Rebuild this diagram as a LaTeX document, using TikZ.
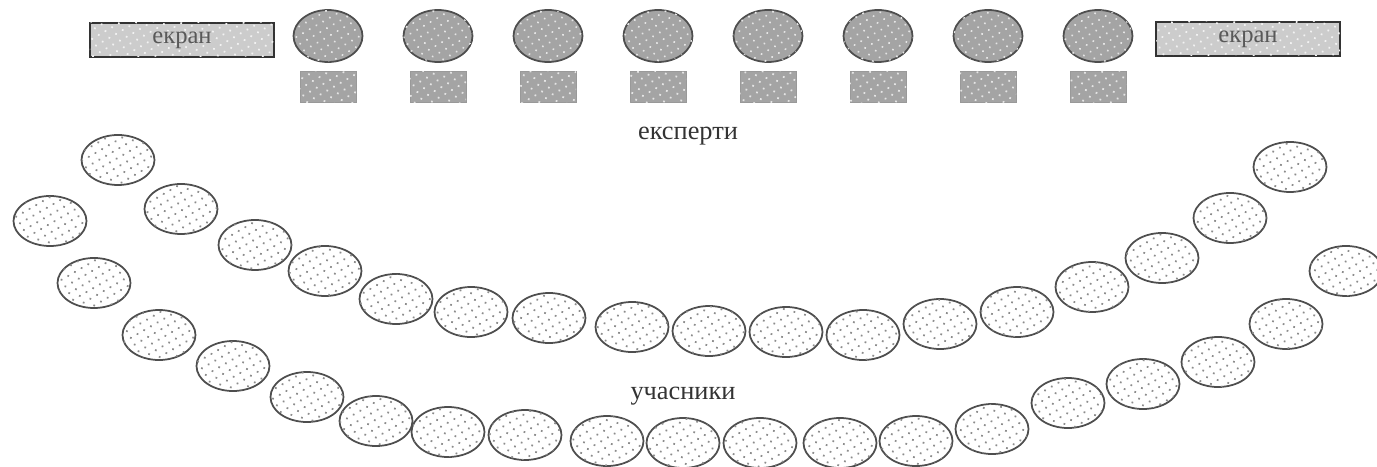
\documentclass[tikz,border=0pt]{standalone}
\usepackage{fontspec}
\setmainfont{Liberation Serif}
\usepackage{tikz}
\usetikzlibrary{
	shapes.geometric,
	patterns.meta
}
\definecolor{SeatInk}{HTML}{4E4E4E}
\definecolor{SeatDots}{HTML}{8C8C8C}
\definecolor{ExpertFill}{HTML}{A4A4A4}
\definecolor{ScreenFill}{HTML}{CCCCCC}
\definecolor{LabelInk}{HTML}{333333}

\begin{document}
\begin{tikzpicture}[
 x=0.2mm,y=-0.2mm,
 font=\fontsize{15}{18}\selectfont,
 seat/.style={ellipse,inner sep=0pt,minimum width=1.46cm,minimum height=1cm,
   draw=SeatInk,line width=1pt,fill=white,
   postaction={pattern={Dots[distance=4.4pt,radius=.7pt,angle=30]},pattern color=SeatDots}},
 expert/.style={seat,minimum width=1.38cm,minimum height=1.04cm,fill=ExpertFill,
   postaction={pattern={Dots[distance=4.4pt,radius=.7pt,angle=30]},pattern color=white!80!gray}},
 desk/.style={rectangle,inner sep=0pt,minimum width=1.12cm,minimum height=.62cm,
   draw=gray!80,line width=.5pt,fill=ExpertFill,
   postaction={pattern={Dots[distance=4.4pt,radius=.7pt,angle=30]},pattern color=white!80!gray}},
 screen/.style={rectangle,inner sep=0pt,minimum width=3.68cm,minimum height=.68cm,
   draw=black!80,line width=1.2pt,fill=ScreenFill,text=black!65,
   font=\fontsize{14}{16}\selectfont,
   postaction={pattern={Dots[distance=4.4pt,radius=.7pt,angle=30]},pattern color=white!90!gray}},
 tag/.style={text=LabelInk}
]
 \useasboundingbox (0,0) rectangle (1377,467);
 % screens and experts
 \node[screen] (screenL) at (182,40) {екран};
 \node[screen] (screenR) at (1248,39) {екран};
 \foreach \i in {1,...,8}{
   \node[expert] (exp\i) at ({218+110*\i},36) {};
   \node[desk] (desk\i) at ({218+110*\i},87) {};
 }
 \node[tag] (experts) at (688,136) {експерти};
 % participants, inner arc
 \foreach \x/\y [count=\i] in {118/160,181/209,255/245,325/271,396/299,471/312,
   549/318,632/327,709/331,786/332,863/335,940/324,1017/312,1092/287,
   1162/258,1230/218,1290/167}
   \node[seat] (up\i) at (\x,\y) {};
 % participants, outer arc
 \foreach \x/\y [count=\i] in {50/221,94/283,159/335,233/366,307/397,376/421,
   448/432,525/435,607/441,683/443,760/443,840/443,916/441,992/429,
   1068/403,1143/384,1218/362,1286/324,1346/271}
   \node[seat] (low\i) at (\x,\y) {};
 \node[tag] (members) at (683,396) {учасники};
\end{tikzpicture}
\end{document}
